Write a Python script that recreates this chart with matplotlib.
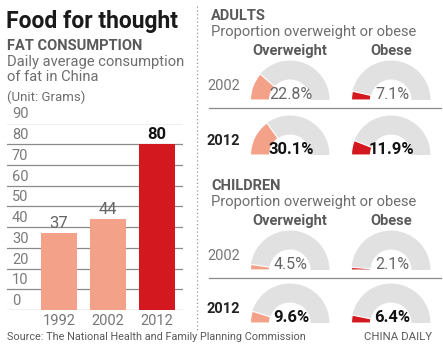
import matplotlib
matplotlib.use("Agg")
import matplotlib.pyplot as plt
from matplotlib.patches import Wedge
from matplotlib import font_manager

# data
years = ["1992", "2002", "2012"]
fat = [37, 44, 80]
fat_ticks = [0, 10, 20, 30, 40, 50, 60, 70, 80, 90]

gauge_groups = ["ADULTS", "CHILDREN"]
gauge_years = ["2002", "2012"]
gauge_cols = ["Overweight", "Obese"]
adult_over = [22.8, 30.1]
adult_obese = [7.1, 11.9]
child_over = [4.5, 9.6]
child_obese = [2.1, 6.4]

names = {f.name for f in font_manager.fontManager.ttflist}
NARROW = "Liberation Sans Narrow" if "Liberation Sans Narrow" in names else "Roboto"
SANS = "Roboto"

SALMON = "#f4a18a"
RED = "#d4181f"
RING = "#e1e1e1"
GREY = "#5a5a5a"
LGREY = "#6e6e6e"

W, H = 443, 353
fig = plt.figure(figsize=(W / 100, H / 100), dpi=100)

# overlay in pixel coords
ov = fig.add_axes([0, 0, 1, 1])
ov.set_xlim(0, W)
ov.set_ylim(H, 0)
ov.axis("off")

# ---- left panel
ov.text(6, 28, "Food for thought", fontsize=16.5, fontweight="bold",
        family=SANS, color="#1a1a1a", va="baseline")
ov.text(7, 50, "FAT CONSUMPTION", fontsize=10.5, fontweight="bold",
        family=SANS, color=GREY, va="baseline")
ov.text(7, 66, "Daily average consumption", fontsize=10.6, family=SANS,
        color=LGREY, va="baseline")
ov.text(7, 81, "of fat in China", fontsize=10.6, family=SANS,
        color=LGREY, va="baseline")
ov.text(7, 101, "(Unit: Grams)", fontsize=9.5, family=NARROW,
        color=LGREY, va="baseline")

# bar chart axes
y0, y90 = 310, 123.5
ax = fig.add_axes([7 / W, (H - y0) / H, 176 / W, (y0 - y90) / H])
ax.set_ylim(0, 90)
ax.set_xlim(-1.06, 2.53)
ax.axis("off")
for t in fat_ticks:
    ax.axhline(t, color="#8a8a8a", lw=0.9, zorder=0)
    ax.annotate(str(t), (0, t), xycoords=("axes fraction", "data"),
                xytext=(5, 2), textcoords="offset pixels",
                fontsize=10.5, family=NARROW, color="#7a7a7a", va="bottom")
colors = [SALMON, SALMON, RED]
xs = range(len(years))
ax.bar(xs, fat, width=0.73, color=colors, zorder=2)
for i, v in enumerate(fat):
    last = i == len(fat) - 1
    ax.annotate(str(v), (i, v), xytext=(0, 2), textcoords="offset pixels",
                ha="center", va="bottom", fontsize=12,
                fontweight="bold" if last else "normal", family=NARROW,
                color="#111111" if last else "#666666")
    ax.annotate(years[i], (i, 0), xytext=(0, -18), textcoords="offset pixels",
                ha="center", va="bottom", fontsize=10.5, family=NARROW,
                color="#777777")

ov.text(7, 340, "Source: The National Health and Family Planning Commission",
        fontsize=7.8, family=NARROW, color=GREY, va="baseline")
ov.text(432, 340, "CHINA DAILY", fontsize=8.2, family=NARROW, color=GREY,
        va="baseline", ha="right")

# dotted divider
ov.plot([197, 197], [6, 330], color="#999999", lw=0.9, ls=(0, (1, 2)))

# ---- gauges
cxs = [290, 391]
R, RW = 39.5, 19
blocks = [
    (20, [100, 155], 108, [adult_over, adult_obese]),
    (190, [270, 323], 278, [child_over, child_obese]),
]
for g, (ytop, bases, sep, series) in enumerate(blocks):
    ov.text(211, ytop, gauge_groups[g], fontsize=10.5, fontweight="bold",
            family=SANS, color=GREY, va="baseline")
    ov.text(211, ytop + 16, "Proportion overweight or obese", fontsize=10.6,
            family=SANS, color=LGREY, va="baseline")
    for c, name in enumerate(gauge_cols):
        ov.text(cxs[c], ytop + 35, name, fontsize=10.5, fontweight="bold",
                family=NARROW, color=GREY, ha="center", va="baseline")
    ov.plot([209, 441], [sep, sep], color="#8a8a8a", lw=0.9)
    for r, yb in enumerate(bases):
        bold = r == 1
        ov.text(207, yb - 10, gauge_years[r], fontsize=10.5, family=NARROW,
                fontweight="bold" if bold else "normal",
                color="#222222" if bold else "#777777", va="baseline")
        for c in range(2):
            pct = series[c][r]
            ang = 180 + pct / 100 * 180
            col = SALMON if c == 0 else RED
            ov.add_patch(Wedge((cxs[c], yb), R, ang, 360, width=RW,
                               facecolor=RING, edgecolor="none"))
            ov.add_patch(Wedge((cxs[c], yb), R, 180, ang, width=RW,
                               facecolor=col, edgecolor="white", lw=0.8))
            ov.text(cxs[c] + 1, yb - 1, f"{pct}%", fontsize=12 if bold else 11.5,
                    family=NARROW, fontweight="bold" if bold else "normal",
                    color="#111111" if bold else "#666666",
                    ha="center", va="baseline")

fig.savefig("out.png", dpi=100)
